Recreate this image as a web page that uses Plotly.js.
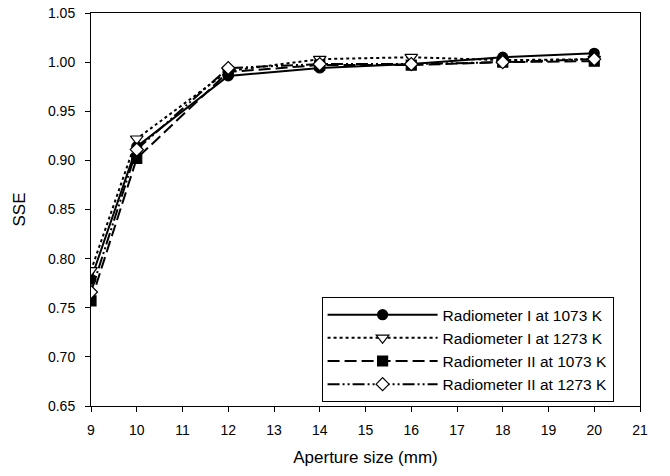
<!DOCTYPE html>
<html>
<head>
<meta charset="utf-8">
<script src="https://cdn.plot.ly/plotly-3.0.1.min.js"></script>
<style>html,body{margin:0;padding:0;background:#fff;}#chart{width:670px;height:476px;}</style>
</head>
<body>
<div id="chart"></div>
<script>
var apertures = [9, 10, 12, 14, 16, 18, 20];
var seriesNames = ["Radiometer I at 1073 K", "Radiometer I at 1273 K", "Radiometer II at 1073 K", "Radiometer II at 1273 K"];
var radI1073 = [0.779, 0.914, 0.986, 0.994, 0.998, 1.005, 1.009];
var radI1273 = [0.788, 0.922, 0.991, 1.003, 1.005, 1.002, 1.003];
var radII1073 = [0.757, 0.902, 0.990, 0.997, 0.997, 1.000, 1.001];
var radII1273 = [0.766, 0.911, 0.994, 0.998, 0.998, 1.000, 1.003];
var xTicks = [9, 10, 11, 12, 13, 14, 15, 16, 17, 18, 19, 20, 21];
var yTicks = [0.65, 0.70, 0.75, 0.80, 0.85, 0.90, 0.95, 1.00, 1.05];

var styles = [
  {dash: "solid", symbol: "circle", fill: "#000"},
  {dash: "dot", symbol: "triangle-down", fill: "#fff"},
  {dash: "12px,5px", symbol: "square", fill: "#000"},
  {dash: "12px,3px,2px,3px,2px,3px", symbol: "diamond", fill: "#fff"}
];
var ys = [radI1073, radI1273, radII1073, radII1273];
var traces = ys.map(function (y, i) {
  return {
    x: apertures, y: y, name: seriesNames[i], type: "scatter", mode: "lines+markers",
    line: {color: "#000", width: 2, dash: styles[i].dash},
    marker: {symbol: styles[i].symbol, size: i === 1 ? 11 : 10, color: styles[i].fill, line: {color: "#000", width: 1.2}}
  };
});

var ff = "Liberation Sans, Arial, sans-serif";
var layout = {
  width: 670, height: 476,
  margin: {l: 91, r: 30, t: 13, b: 70},
  paper_bgcolor: "#fff", plot_bgcolor: "#fff",
  font: {family: ff, color: "#000", size: 14},
  showlegend: true,
  legend: {
    x: 0.42, y: 0.277, xanchor: "left", yanchor: "top",
    bordercolor: "#000", borderwidth: 1, bgcolor: "#fff",
    font: {family: ff, size: 15.5, color: "#000"},
    itemwidth: 110, tracegroupgap: 0
  },
  xaxis: {
    range: [9, 21], tickvals: xTicks, ticktext: xTicks.map(String),
    showgrid: false, zeroline: false, showline: true, linecolor: "#000", linewidth: 1, mirror: true,
    ticks: "outside", ticklen: 5, tickcolor: "#000", ticklabelstandoff: 6,
    tickfont: {family: ff, size: 14, color: "#000"},
    title: {text: "Aperture size (mm)", font: {family: ff, size: 17, color: "#000"}, standoff: 14}
  },
  yaxis: {
    range: [0.65, 1.05], tickvals: yTicks, ticktext: yTicks.map(function (v) { return v.toFixed(2); }),
    showgrid: false, zeroline: false, showline: true, linecolor: "#000", linewidth: 1, mirror: true,
    ticks: "outside", ticklen: 5, tickcolor: "#000", ticklabelstandoff: 7,
    tickfont: {family: ff, size: 14, color: "#000"},
    title: {text: "SSE", font: {family: ff, size: 17, color: "#000"}, standoff: 18}
  }
};
Plotly.newPlot("chart", traces, layout, {displayModeBar: false, staticPlot: true});
</script>
</body>
</html>
